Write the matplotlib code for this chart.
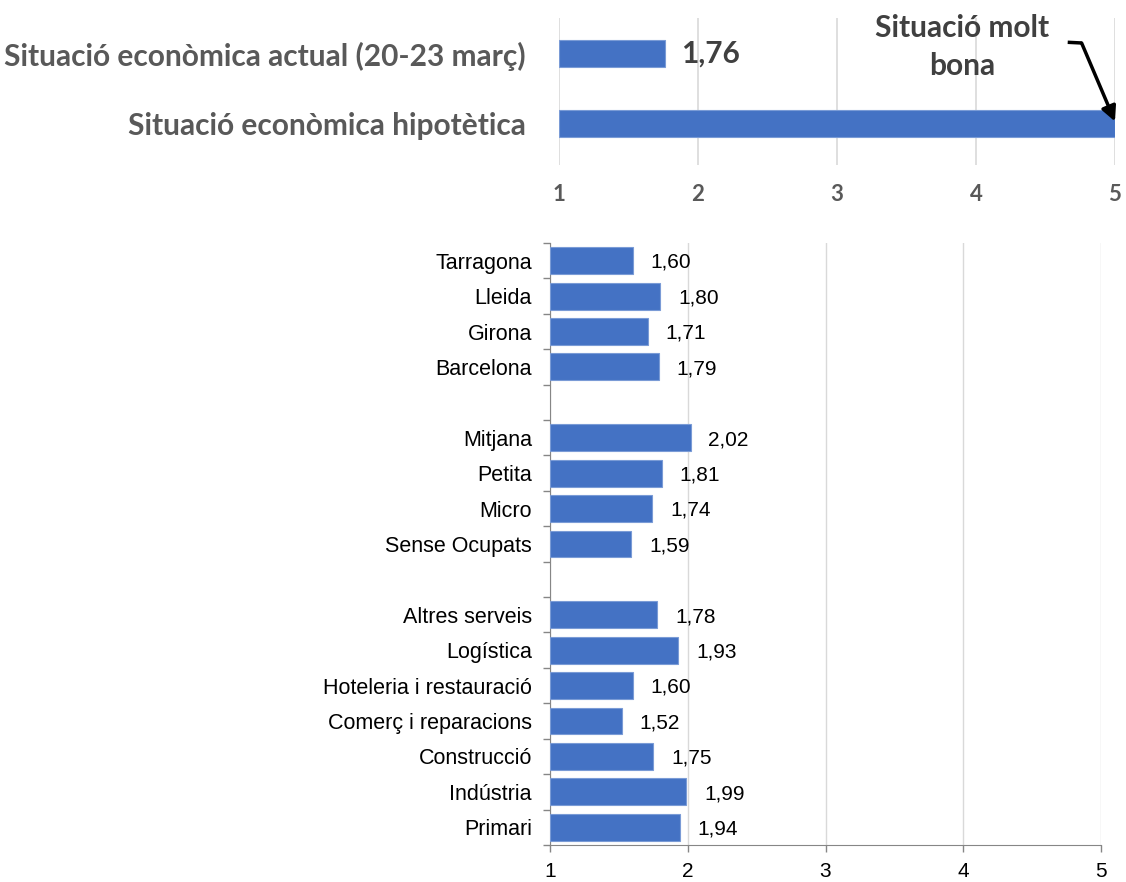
import matplotlib
matplotlib.use("Agg")
from matplotlib import pyplot as plt
import numpy as np

# top panel
top_labels = ["Situació econòmica actual (20-23 març)", "Situació econòmica hipotètica"]
top_values = [1.76, 5.0]

# bottom panel, groups listed top to bottom
groups = [
    (["Tarragona", "Lleida", "Girona", "Barcelona"], [1.60, 1.80, 1.71, 1.79]),
    (["Mitjana", "Petita", "Micro", "Sense Ocupats"], [2.02, 1.81, 1.74, 1.59]),
    (["Altres serveis", "Logística", "Hoteleria i restauració", "Comerç i reparacions",
      "Construcció", "Indústria", "Primari"],
     [1.78, 1.93, 1.60, 1.52, 1.75, 1.99, 1.94]),
]
ticks = [1, 2, 3, 4, 5]

blue = "#4472C4"
edge = "#7A9BD6"
grid = "#D9D9D9"
dark = "#595959"

fig = plt.figure(figsize=(11.26, 8.82), dpi=100)

# ---------- top chart ----------
ax1 = fig.add_axes([0.4964, 0.8129, 0.4938, 0.1667])
y1 = np.arange(len(top_labels))
ax1.barh(y1, [v - 1 for v in top_values], left=1, height=0.386, color=blue,
         edgecolor=edge, linewidth=0.8, zorder=3)
ax1.set_xlim(1, 5)
ax1.set_ylim(1.593, -0.507)
ax1.set_xticks(ticks)
ax1.set_yticks(y1)
ax1.set_yticklabels(top_labels, fontfamily="Lato", fontweight="bold", fontsize=21.5, color=dark)
for lbl in ax1.get_xticklabels():
    lbl.set_fontfamily("Lato")
    lbl.set_fontweight("bold")
    lbl.set_fontsize(16)
    lbl.set_color(dark)
ax1.tick_params(axis="x", length=0, pad=14)
ax1.tick_params(axis="y", length=0, pad=24)
for s in ax1.spines.values():
    s.set_visible(False)
ax1.xaxis.grid(True, color=grid, linewidth=1.2, zorder=0)
ax1.set_axisbelow(True)
ax1.text(top_values[0] + 0.12, 0, f"{top_values[0]:.2f}".replace(".", ","),
         va="center", ha="left", fontfamily="Lato", fontweight="bold", fontsize=21.5, color="#404040")
ax1.text(3.90, -0.09, "Situació molt\nbona", ha="center", va="center",
         fontfamily="Lato", fontweight="bold", fontsize=21.5, color="#404040", linespacing=1.45)
ax1.plot([4.66, 4.76], [-0.16, -0.15], color="black", lw=2.5, clip_on=False, solid_capstyle="butt")
ax1.annotate("", xy=(5.0, 0.97), xytext=(4.76, -0.15),
             arrowprops=dict(arrowstyle="-|>", color="black", lw=2.5, mutation_scale=22,
                             shrinkA=0, shrinkB=0), annotation_clip=False)

# ---------- bottom chart ----------
ax2 = fig.add_axes([0.4885, 0.0420, 0.4893, 0.6825])
names, vals = [], []
for i, (n, v) in enumerate(groups):
    if i > 0:
        names.append("")
        vals.append(np.nan)
    names += n
    vals += v
pos = np.arange(len(names))
vals = np.array(vals)
mask = ~np.isnan(vals)
ax2.barh(pos[mask], vals[mask] - 1, left=1, height=0.76, color=blue,
         edgecolor=edge, linewidth=0.8, zorder=3)
for p, v in zip(pos[mask], vals[mask]):
    ax2.text(v + 0.13, p + 0.05, f"{v:.2f}".replace(".", ","), va="center", ha="left",
             fontfamily="Liberation Sans", fontsize=15, color="black")
ax2.set_xlim(1, 5)
ax2.set_ylim(len(names) - 0.5, -0.5)
ax2.set_xticks(ticks)
ax2.set_yticks(pos)
ax2.set_yticklabels(names, fontfamily="Liberation Sans", fontsize=15.5)
ax2.set_yticks(np.arange(-0.5, len(names)), minor=True)
ax2.tick_params(axis="y", which="major", length=0, pad=13)
ax2.tick_params(axis="y", which="minor", length=5, color="#868686", width=1)
ax2.tick_params(axis="x", length=5, color="#868686", width=1, pad=7)
for lbl in ax2.get_xticklabels():
    lbl.set_fontfamily("Liberation Sans")
    lbl.set_fontsize(15)
ax2.spines["top"].set_visible(False)
ax2.spines["right"].set_visible(False)
ax2.spines["left"].set_color("#868686")
ax2.spines["bottom"].set_color("#868686")
ax2.xaxis.grid(True, color=grid, linewidth=1, zorder=0)
ax2.set_axisbelow(True)

fig.savefig("out.png", dpi=100)
